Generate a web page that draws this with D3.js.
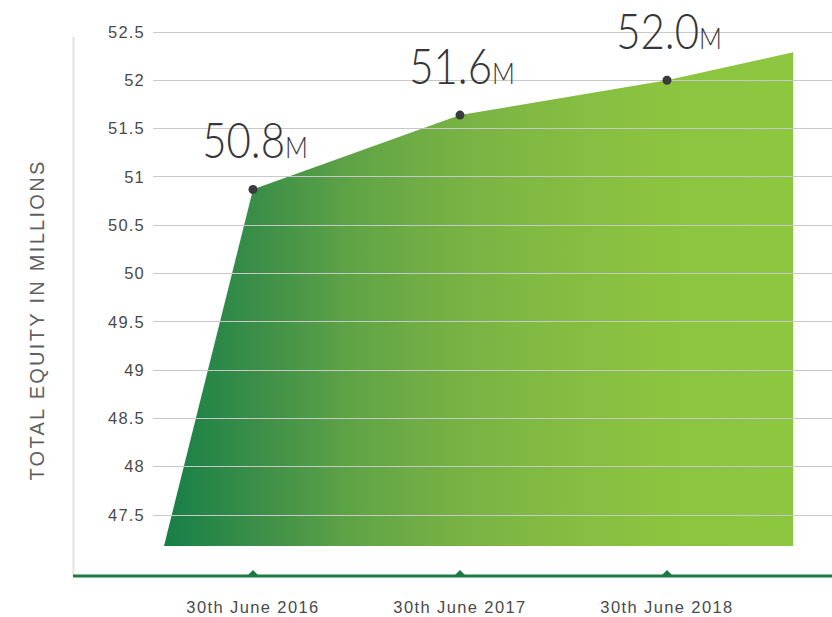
<!DOCTYPE html>
<html><head><meta charset="utf-8">
<script src="https://cdn.jsdelivr.net/npm/d3@7"></script>
<style>body{margin:0;background:#fff}</style>
</head><body>
<svg id="c" width="832" height="617"></svg>
<script>
const categories = ["30th June 2016", "30th June 2017", "30th June 2018"];
const values = [50.87, 51.64, 52.0];
const valueLabels = ["50.8", "51.6", "52.0"];
const yTicks = [47.5, 48, 48.5, 49, 49.5, 50, 50.5, 51, 51.5, 52, 52.5];
// area outline: [category index position, value]
const areaPoints = [[-0.43, 47.18], [0, 50.87], [1, 51.64], [2, 52.0], [2.61, 52.29], [2.61, 47.18]];

const svg = d3.select("#c");
const x = d3.scaleLinear().domain([0, 2]).range([253, 667]);
const y = d3.scaleLinear().domain([47.5, 52.5]).range([515, 32]);
const axisY = 576;
const font = "'Liberation Sans', Arial, sans-serif";

const defs = svg.append("defs");
const grad = defs.append("linearGradient").attr("id", "g").attr("gradientUnits", "userSpaceOnUse")
  .attr("x1", x(-0.43)).attr("x2", x(2.61)).attr("y1", 0).attr("y2", 0);
[[0, "#167f47"], [0.154, "#3d8f48"], [0.313, "#62a546"], [0.471, "#78b244"], [0.63, "#84bc42"], [0.79, "#8bc43f"], [1, "#8dc63f"]]
  .forEach(s => grad.append("stop").attr("offset", s[0]).attr("stop-color", s[1]));

// area
svg.append("path").datum(areaPoints)
  .attr("d", d3.line().x(d => x(d[0])).y(d => y(d[1])))
  .attr("fill", "url(#g)");

// gridlines
svg.append("g").selectAll("line").data(yTicks).join("line")
  .attr("x1", 153).attr("x2", 832)
  .attr("y1", d => y(d)).attr("y2", d => y(d))
  .attr("stroke", "#c8c8c8").attr("stroke-width", 1).attr("shape-rendering", "crispEdges");

// y axis tick labels
svg.append("g").selectAll("text").data(yTicks).join("text")
  .attr("x", 145).attr("y", d => y(d)).attr("dy", "0.35em")
  .attr("text-anchor", "end")
  .attr("font-family", font).attr("font-size", 16.5).attr("letter-spacing", 1.2)
  .attr("fill", "#4a4a4a")
  .text(d => d);

// vertical axis line
svg.append("line").attr("x1", 73.5).attr("x2", 73.5).attr("y1", 37).attr("y2", axisY)
  .attr("stroke", "#e2e2e2").attr("stroke-width", 2);

// x axis line
svg.append("line").attr("x1", 73).attr("x2", 832).attr("y1", axisY).attr("y2", axisY)
  .attr("stroke", "#1e7a45").attr("stroke-width", 3);

// tick markers
svg.append("g").selectAll("path").data(categories).join("path")
  .attr("d", (d, i) => `M${x(i) - 6},${axisY} L${x(i)},${axisY - 6} L${x(i) + 6},${axisY} Z`)
  .attr("fill", "#1e7a45");

// x labels
svg.append("g").selectAll("text").data(categories).join("text")
  .attr("x", (d, i) => x(i)).attr("y", 613)
  .attr("text-anchor", "middle")
  .attr("font-family", font).attr("font-size", 16.5).attr("letter-spacing", 1.4)
  .attr("fill", "#4a4a4a")
  .text(d => d);

// y title
svg.append("text")
  .attr("transform", "translate(44,320) rotate(-90)")
  .attr("text-anchor", "middle")
  .attr("font-family", font).attr("font-size", 20).attr("letter-spacing", 2.3)
  .attr("fill", "#606060")
  .text("TOTAL EQUITY IN MILLIONS");

// points
svg.append("g").selectAll("circle").data(values).join("circle")
  .attr("cx", (d, i) => x(i)).attr("cy", d => y(d)).attr("r", 4.5)
  .attr("fill", "#3a3a3f");

// value labels
const lab = svg.append("g").selectAll("text").data(values).join("text")
  .attr("transform", (d, i) => `translate(${x(i) + 2},${y(d) - 31}) scale(0.84,1)`)
  .attr("text-anchor", "middle")
  .attr("font-family", "Lato, sans-serif").attr("font-weight", 300)
  .attr("fill", "#35353a");
lab.append("tspan").attr("font-size", 50).text((d, i) => valueLabels[i]);
lab.append("tspan").attr("font-size", 30).text("M");
</script>
</body></html>
